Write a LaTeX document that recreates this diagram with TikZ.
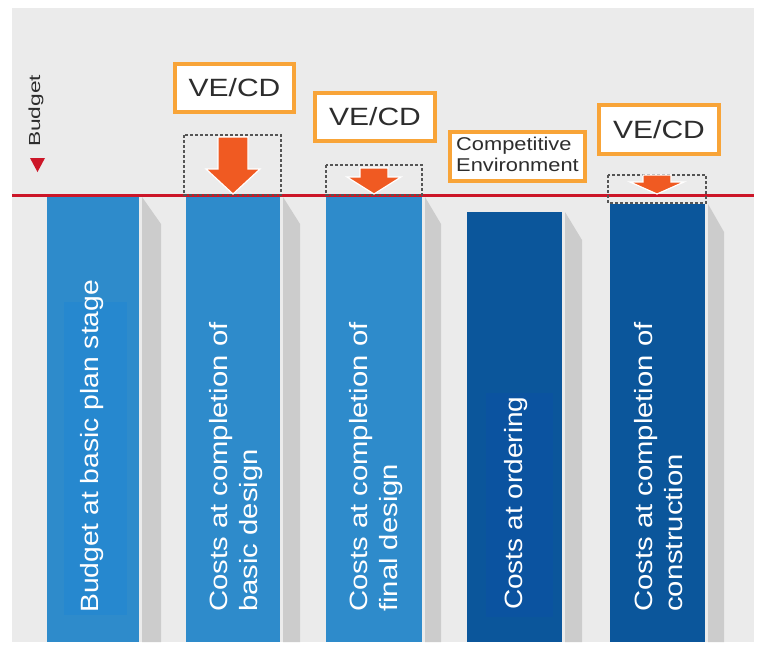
\documentclass[tikz,border=0pt]{standalone}
\usepackage{fontspec}
\setmainfont{Liberation Sans}
\usepackage{graphicx}
\definecolor{bg}{RGB}{235,235,235}
\definecolor{barA}{RGB}{46,139,203}
\definecolor{barAin}{RGB}{38,136,207}
\definecolor{barB}{RGB}{11,86,155}
\definecolor{barBin}{RGB}{11,83,160}
\definecolor{shadowgray}{RGB}{204,204,204}
\definecolor{budgetred}{RGB}{204,22,40}
\definecolor{boxorange}{RGB}{248,164,56}
\definecolor{arroworange}{RGB}{240,90,34}
\definecolor{dashgray}{RGB}{85,85,85}
\definecolor{txtgray}{RGB}{45,45,45}
\tikzset{
  barlabel/.style={rotate=90, anchor=base west, inner sep=0pt, text=white,
    font=\fontsize{25}{30.5}\selectfont},
  vebox/.style={draw=boxorange, line width=4pt, fill=white},
  vetext/.style={inner sep=0pt, text=txtgray, font=\fontsize{25}{30}\selectfont},
  dashbox/.style={draw=dashgray, line width=1.5pt, dash pattern=on 3pt off 2pt},
  downarrow/.style={fill=arroworange, draw=white, line width=1.2pt, line join=miter},
  barshadow/.style={fill=shadowgray},
}
\newcommand{\stretchtext}[2]{\scalebox{#1}[1]{\begin{tabular}[t]{@{}l@{}}#2\end{tabular}}}
\begin{document}
\begin{tikzpicture}[x=1pt,y=-1pt]
\useasboundingbox (0,0) rectangle (761,645);
\fill[white] (0,0) rectangle (761,645);
\fill[bg] (12,8) rectangle (754,642);
% bars
\fill[barA] (47,196) rectangle (139,642);
\fill[barA] (186,196) rectangle (280,642);
\fill[barA] (326,196) rectangle (422,642);
\fill[barB] (467,212) rectangle (562,642);
\fill[barB] (610,204) rectangle (705,642);
% shadows
\path[barshadow] (142,197) -- (161,224) -- (161,642) -- (142,642) -- cycle;
\path[barshadow] (283,197) -- (300,224) -- (300,642) -- (283,642) -- cycle;
\path[barshadow] (425,197) -- (441,224) -- (441,642) -- (425,642) -- cycle;
\path[barshadow] (565,212) -- (582,240) -- (582,642) -- (565,642) -- cycle;
\path[barshadow] (708,204) -- (724,232) -- (724,642) -- (708,642) -- cycle;
% subtle text panels
\fill[barAin] (64,302) rectangle (127,615);
\fill[barBin] (486,393) rectangle (553,617);
% bar labels
\node[barlabel] (l1) at (98,613) {\stretchtext{1.13}{Budget at basic plan stage}};
\node[barlabel] (l2) at (227,612) {\stretchtext{1.17}{Costs at completion of\\basic design}};
\node[barlabel] (l3) at (367,612) {\stretchtext{1.17}{Costs at completion of\\final design}};
\node[barlabel] (l4) at (522,610) {\stretchtext{1.12}{Costs at ordering}};
\node[barlabel] (l5) at (652,612) {\stretchtext{1.17}{Costs at completion of\\construction}};
% budget line
\draw[budgetred, line width=2.5pt] (12,195.5) -- (754,195.5);
\node[rotate=90, anchor=base west, inner sep=0pt, text=txtgray, font=\fontsize{16}{18}\selectfont] (budget) at (40,147) {\scalebox{1.42}[1]{Budget}};
\fill[budgetred] (30,158) -- (45,158) -- (37.5,172) -- cycle;
% dashed boxes
\draw[dashbox] (184,135) rectangle (281,195);
\draw[dashbox] (326,165) rectangle (422,195);
\draw[dashbox] (608,175) rectangle (706,203);
% arrows
\filldraw[downarrow] (218,137) -- (248,137) -- (248,169) -- (260,169) -- (233,194) -- (206,169) -- (218,169) -- cycle;
\filldraw[downarrow] (360,168) -- (388,168) -- (388,177) -- (401,177) -- (374,194) -- (347,177) -- (360,177) -- cycle;
\filldraw[downarrow] (643,175) -- (671,175) -- (671,182) -- (684,182) -- (657,194) -- (630,182) -- (643,182) -- cycle;
% VE/CD boxes
\draw[vebox] (175,64) rectangle (294,112);
\node[vetext] (ve1) at (234.5,88) {\scalebox{1.2}[1]{VE/CD}};
\draw[vebox] (315,93) rectangle (435,141);
\node[vetext] (ve2) at (375,117) {\scalebox{1.2}[1]{VE/CD}};
\draw[vebox] (450,132) rectangle (585,181);
\node[vetext, font=\fontsize{18.5}{21}\selectfont] (comp) at (517.5,156.5) {\stretchtext{1.18}{Competitive\\Environment}};
\draw[vebox] (599,105) rectangle (719,154);
\node[vetext] (ve3) at (659,129.5) {\scalebox{1.2}[1]{VE/CD}};
\end{tikzpicture}
\end{document}
